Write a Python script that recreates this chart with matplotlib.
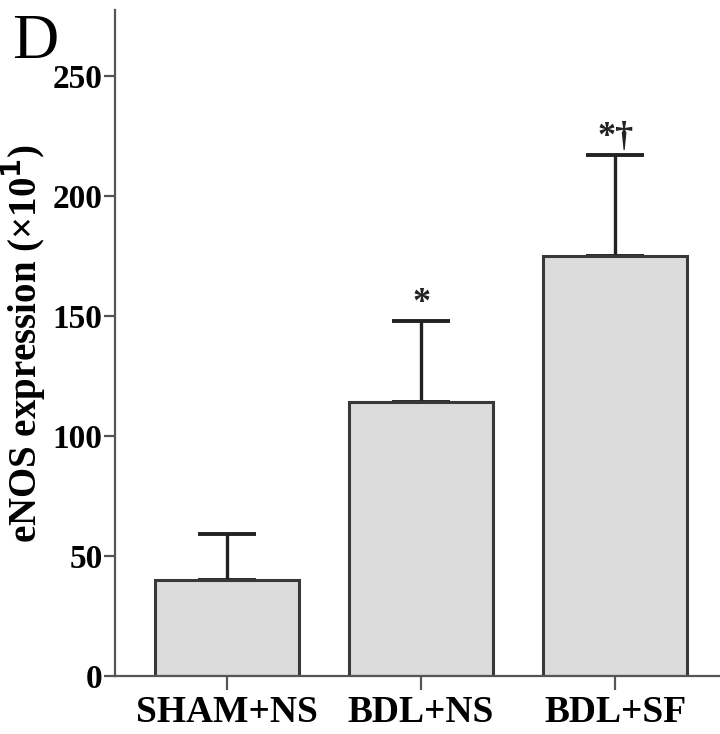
import numpy as np
import matplotlib
matplotlib.use("Agg")
import matplotlib.pyplot as plt

# ───── Data ─────
groups = ["SHAM+NS", "BDL+NS", "BDL+SF"]
means  = [40, 114, 175]
errors = [19, 34, 42]
marks  = ["", "*", "*\u2020"]

plt.rcParams['font.family'] = ['Liberation Serif', 'DejaVu Serif']

fig = plt.figure(figsize=(7.2, 7.34), dpi=100)
ax = fig.add_axes([115/720, 1 - 676/734, 1 - 115/720, (676 - 10)/734])

x = np.arange(len(groups))
ax.bar(x, means, width=0.742, color='#dcdcdc', edgecolor='#383838',
       linewidth=2.2, zorder=2)
ax.errorbar(x, means, yerr=[np.zeros(len(errors)), errors], fmt='none',
            ecolor='#222222', elinewidth=2.4, capsize=21, capthick=2.8, zorder=1)

for xi, m, e, s in zip(x, means, errors, marks):
    if s:
        ax.text(xi, m + e + 0.5, s, ha='center', va='bottom',
                fontsize=26, fontweight='bold', color='#222222')

ax.set_xlim(-0.577, 2.54)
ax.set_ylim(0, 277.5)
ax.set_yticks([0, 50, 100, 150, 200, 250])
ax.set_xticks(x)
ax.set_xticklabels(groups)

for sp in ['top', 'right']:
    ax.spines[sp].set_visible(False)
for sp in ['left', 'bottom']:
    ax.spines[sp].set_color('#555555')
    ax.spines[sp].set_linewidth(1.6)

ax.tick_params(axis='y', length=8, width=1.6, color='#555555', pad=1,
               labelsize=24)
ax.tick_params(axis='x', length=10, width=1.6, color='#555555', pad=4,
               labelsize=27)
for lab in ax.get_xticklabels() + ax.get_yticklabels():
    lab.set_fontweight('bold')

ax.set_ylabel("eNOS expression (\u00d710$^{\\mathbf{1}}$)", fontsize=28,
              fontweight='bold', labelpad=4)

fig.text(12/720, 1 - 58/734, "D", fontsize=46, ha='left', va='baseline')

fig.savefig("out.png", dpi=100)
